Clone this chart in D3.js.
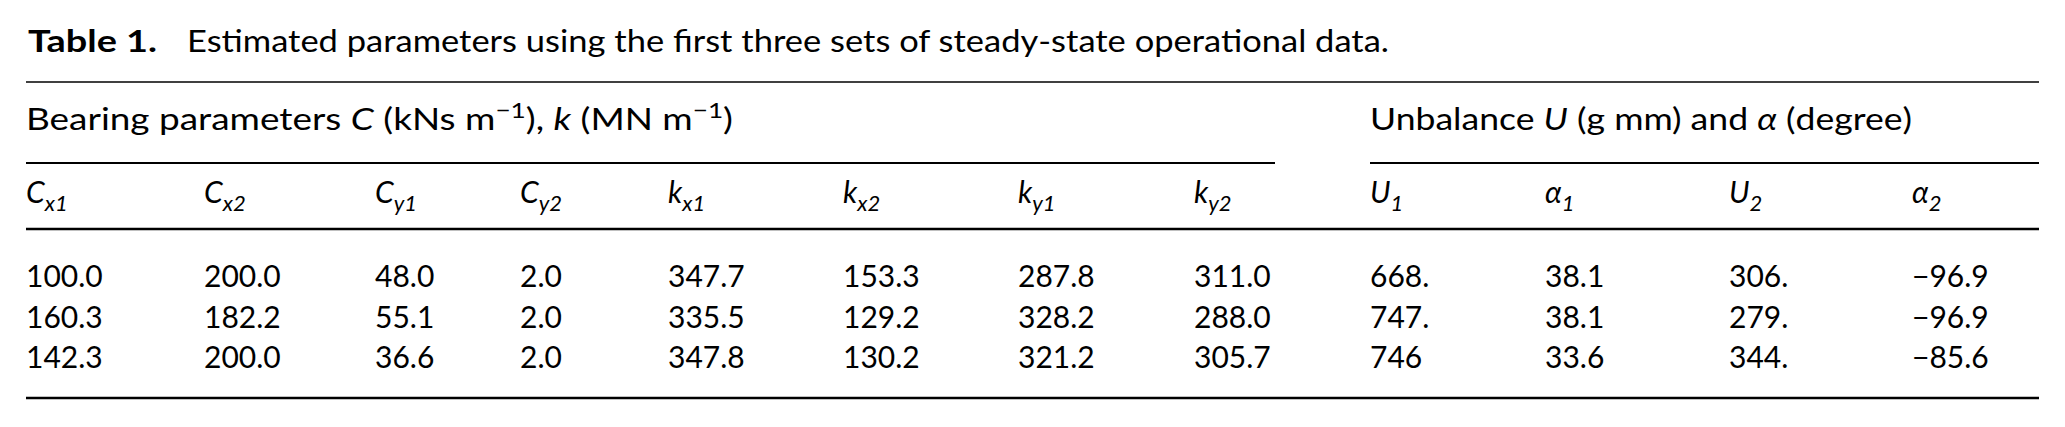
<!DOCTYPE html>
<html>
<head>
<meta charset="utf-8">
<script src="https://cdn.jsdelivr.net/npm/d3@7/dist/d3.min.js"></script>
<style>
  html, body { margin: 0; padding: 0; background: #fff; }
  svg { display: block; }
  text { font-family: Lato, "Open Sans", "DejaVu Sans", sans-serif; fill: #000; }
</style>
</head>
<body>
<svg id="chart" width="2065" height="427"></svg>
<script>
// ---- data ----
const titleLabel = "Table 1.";
const titleText = "Estimated parameters using the first three sets of steady-state operational data.";
const columnKeys = ["Cx1","Cx2","Cy1","Cy2","kx1","kx2","ky1","ky2","U1","a1","U2","a2"];
const columnMain = ["C","C","C","C","k","k","k","k","U","α","U","α"];
const columnSub  = ["x1","x2","y1","y2","x1","x2","y1","y2","1","1","2","2"];
const rowKeys = ["set1","set2","set3"];
const row1 = ["100.0","200.0","48.0","2.0","347.7","153.3","287.8","311.0","668.","38.1","306.","−96.9"];
const row2 = ["160.3","182.2","55.1","2.0","335.5","129.2","328.2","288.0","747.","38.1","279.","−96.9"];
const row3 = ["142.3","200.0","36.6","2.0","347.8","130.2","321.2","305.7","746","33.6","344.","−85.6"];
const rows = [row1, row2, row3];

// ---- layout ----
const svg = d3.select("#chart");
const FS = 30;
const HFS = 31;
const x = d3.scaleOrdinal()
  .domain(columnKeys)
  .range([26, 204, 375, 520, 668, 843, 1018, 1194, 1370, 1545, 1729, 1912]);
const y = d3.scalePoint().domain(rowKeys).range([287, 368]);

function fit(sel, w) {
  sel.attr("textLength", w).attr("lengthAdjust", "spacingAndGlyphs");
}

// title
const t1 = svg.append("text").attr("x", 28).attr("y", 52)
  .style("font-size", HFS + "px").attr("font-weight", "bold").text(titleLabel);
fit(t1, 129);
const t2 = svg.append("text").attr("x", 187).attr("y", 52)
  .style("font-size", HFS + "px").text(titleText);
fit(t2, 1202);

// rules
function rule(x1, x2, yy, w) {
  svg.append("line").attr("x1", x1).attr("x2", x2).attr("y1", yy).attr("y2", yy)
    .attr("stroke", "#000").attr("stroke-width", w);
}
rule(26, 2039, 82, 1.6);
rule(26, 1275, 163, 1.8);
rule(1370, 2039, 163, 1.8);
rule(26, 2039, 229, 2.6);
rule(26, 2039, 398, 2.6);

// group headers
const g1 = svg.append("text").attr("x", 26).attr("y", 130).style("font-size", HFS + "px");
g1.append("tspan").text("Bearing parameters ");
g1.append("tspan").attr("font-style", "italic").text("C");
g1.append("tspan").text(" (kNs m");
g1.append("tspan").attr("dy", -12).style("font-size", "22px").text("−1");
g1.append("tspan").attr("dy", 12).text("), ");
g1.append("tspan").attr("font-style", "italic").text("k");
g1.append("tspan").text(" (MN m");
g1.append("tspan").attr("dy", -12).style("font-size", "22px").text("−1");
g1.append("tspan").attr("dy", 12).text(")");
fit(g1, 707);

const g2 = svg.append("text").attr("x", x("U1")).attr("y", 130).style("font-size", HFS + "px");
g2.append("tspan").text("Unbalance ");
g2.append("tspan").attr("font-style", "italic").text("U");
g2.append("tspan").text(" (g mm) and ");
g2.append("tspan").attr("font-style", "italic").text("α");
g2.append("tspan").text(" (degree)");
fit(g2, 542);

// column headers
columnKeys.forEach((k, i) => {
  const h = svg.append("text").attr("x", x(k)).attr("y", 203)
    .style("font-size", FS + "px").attr("font-style", "italic");
  h.append("tspan").text(columnMain[i]);
  h.append("tspan").attr("dy", 8).style("font-size", "22px").text(columnSub[i]);
});

// body cells
rows.forEach((r, ri) => {
  svg.selectAll(null).data(r).enter().append("text")
    .attr("x", (d, i) => x(columnKeys[i]))
    .attr("y", y(rowKeys[ri]))
    .style("font-size", FS + "px")
    .text(d => d);
});
</script>
</body>
</html>
